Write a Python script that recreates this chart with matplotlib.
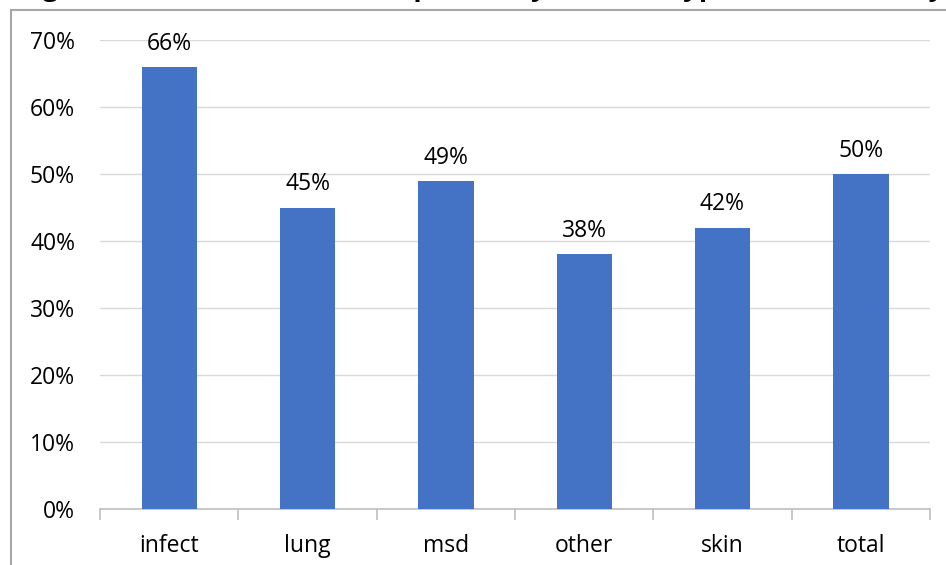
import matplotlib
matplotlib.use("Agg")
import matplotlib.pyplot as plt
from matplotlib.lines import Line2D
from matplotlib.ticker import FuncFormatter, MultipleLocator

# ── Data ───────────────────────────────────────────────────────────────────────

categories = ["infect", "lung", "msd", "other", "skin", "total"]
values     = [66, 45, 49, 38, 42, 50]
title_text = "Figure 4: Percent of Cases Reported by Disease Type, 2016, Industry"

BAR_COLOR  = "#4472c4"
GRID_COLOR = "#d9d9d9"
AXIS_COLOR = "#bfbfbf"
FRAME_COLOR = "#a6a6a6"
FS = 16.5

plt.rcParams["font.family"] = ["Open Sans", "DejaVu Sans"]

fig = plt.figure(figsize=(9.46, 5.65), dpi=100)

# outer chart frame (cropped at top/right/bottom)
fx, fy = 10.5 / 946, 1 - 9.5 / 565
fig.add_artist(Line2D([fx, 1], [fy, fy], transform=fig.transFigure,
                      color=FRAME_COLOR, linewidth=1.5))
fig.add_artist(Line2D([fx, fx], [0, fy], transform=fig.transFigure,
                      color=FRAME_COLOR, linewidth=1.5))

# cropped title - only the descenders remain visible
fig.text(0.02, 1 + 5 / 565, title_text, fontsize=20, fontweight="bold",
         ha="left", va="baseline", color="black")

ax = fig.add_axes([100 / 946, 1 - 509 / 565, 830 / 946, 469 / 565])

x = range(len(categories))
ax.bar(x, values, width=0.4, color=BAR_COLOR, zorder=3)

for xi, v in zip(x, values):
    ax.annotate(f"{v}%", (xi, v), xytext=(0, 8), textcoords="offset points",
                ha="center", va="bottom", fontsize=FS)

ax.set_xlim(-0.5, len(categories) - 0.5)
ax.set_ylim(0, 70)
ax.yaxis.set_major_locator(MultipleLocator(10))
ax.yaxis.set_major_formatter(FuncFormatter(lambda y, _: f"{y:.0f}%"))
ax.grid(axis="y", color=GRID_COLOR, linewidth=1, zorder=0)

for s in ["top", "right", "left"]:
    ax.spines[s].set_visible(False)
ax.spines["bottom"].set_color(AXIS_COLOR)
ax.spines["bottom"].set_linewidth(1.2)

# category labels centred, ticks on boundaries
ax.set_xticks([i - 0.5 for i in range(len(categories) + 1)])
ax.set_xticklabels([])
ax.set_xticks(list(x), minor=True)
ax.set_xticklabels(categories, minor=True, fontsize=FS)
ax.tick_params(axis="x", which="major", length=8, color=AXIS_COLOR, width=1.2,
               direction="out")
ax.tick_params(axis="x", which="minor", length=0, pad=18)
ax.tick_params(axis="y", length=0, labelsize=FS, pad=18)

fig.savefig("out.png", dpi=100)
